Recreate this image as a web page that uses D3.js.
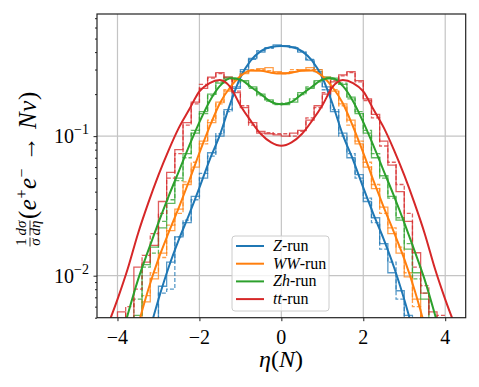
<!DOCTYPE html>
<html>
<head>
<meta charset="utf-8">
<script src="https://cdn.jsdelivr.net/npm/d3@7"></script>
<style>
  body { margin: 0; background: #fff; }
  svg { display: block; }
  text { font-family: "Liberation Serif", "DejaVu Serif", serif; fill: #000; }
</style>
</head>
<body>
<svg id="chart" width="479" height="387"></svg>
<script>
// sample points of the smooth curves
const etaGrid = [-4.5, -4.25, -4, -3.75, -3.5, -3.25, -3, -2.75, -2.5, -2.25, -2, -1.75, -1.5, -1.25, -1, -0.75, -0.5, -0.25,
  0, 0.25, 0.5, 0.75, 1, 1.25, 1.5, 1.75, 2, 2.25, 2.5, 2.75, 3, 3.25, 3.5, 3.75, 4, 4.25, 4.5]

const curveZ = [0.000126, 0.00025, 0.0005, 0.001, 0.002, 0.00372, 0.00676, 0.0115, 0.0182, 0.0275, 0.0427, 0.0676, 0.102, 0.170, 0.263, 0.347, 0.407, 0.435,
  0.442, 0.435, 0.407, 0.347, 0.263, 0.170, 0.102, 0.0676, 0.0427, 0.0275, 0.0182, 0.0115, 0.00676, 0.00372, 0.002, 0.001, 0.0005, 0.00025, 0.000126]
const curveWW = [0.00025, 0.00053, 0.00112, 0.00224, 0.00437, 0.00794, 0.0132, 0.0204, 0.0309, 0.0479, 0.0759, 0.117, 0.172, 0.224, 0.269, 0.295, 0.294, 0.285,
  0.281, 0.285, 0.294, 0.295, 0.269, 0.224, 0.172, 0.117, 0.0759, 0.0479, 0.0309, 0.0204, 0.0132, 0.00794, 0.00437, 0.00224, 0.00112, 0.00053, 0.00025]
const curveZh = [0.00071, 0.00141, 0.00282, 0.00525, 0.00933, 0.0151, 0.024, 0.0372, 0.0562, 0.0851, 0.126, 0.178, 0.229, 0.26, 0.254, 0.226, 0.2, 0.176,
  0.169, 0.176, 0.2, 0.226, 0.254, 0.26, 0.229, 0.178, 0.126, 0.0851, 0.0562, 0.0372, 0.024, 0.0151, 0.00933, 0.00525, 0.00282, 0.00141, 0.00071]
const curveTT = [0.00263, 0.00427, 0.00676, 0.0112, 0.02, 0.0331, 0.0525, 0.0794, 0.115, 0.155, 0.209, 0.24, 0.252, 0.225, 0.166, 0.129, 0.1035, 0.0902,
  0.0853, 0.0902, 0.1035, 0.129, 0.166, 0.225, 0.252, 0.24, 0.209, 0.155, 0.115, 0.0794, 0.0525, 0.0331, 0.02, 0.0112, 0.00676, 0.00427, 0.00263]

// histograms, 0.2 wide bins from -4.4 to 4.4
const histZ = [0, 0, 0.0004, 0.0009, 0.002, 0.003, 0.0045, 0.0084, 0.0125, 0.019, 0.024, 0.037, 0.05, 0.076, 0.1, 0.155, 0.22, 0.3, 0.36, 0.4, 0.43, 0.45,
  0.445, 0.43, 0.4, 0.35, 0.29, 0.225, 0.15, 0.105, 0.07, 0.053, 0.034, 0.026, 0.017, 0.0105, 0.0078, 0.0052, 0.003, 0.002, 0.0008, 0.0004, 0, 0]
const histZdash = [0, 0, 0.0003, 0.0008, 0.0018, 0.0032, 0.0045, 0.0075, 0.008, 0.019, 0.025, 0.035, 0.054, 0.072, 0.104, 0.15, 0.225, 0.29, 0.355, 0.41, 0.425, 0.44,
  0.44, 0.435, 0.405, 0.355, 0.3, 0.215, 0.155, 0.1, 0.075, 0.05, 0.036, 0.024, 0.0155, 0.0125, 0.0068, 0.0044, 0.0032, 0.0018, 0.0009, 0.0003, 0, 0]
const histWW = [0, 0.0005, 0.0012, 0.003, 0.0045, 0.0065, 0.0095, 0.0145, 0.021, 0.03, 0.045, 0.06, 0.092, 0.125, 0.175, 0.21, 0.255, 0.28, 0.295, 0.305, 0.31, 0.29,
  0.285, 0.29, 0.3, 0.31, 0.3, 0.265, 0.21, 0.17, 0.13, 0.088, 0.06, 0.042, 0.031, 0.02, 0.0145, 0.0098, 0.0068, 0.0042, 0.0025, 0.0013, 0.0005, 0]
const histWWdash = [0, 0.0004, 0.001, 0.0022, 0.004, 0.0072, 0.0105, 0.0135, 0.023, 0.028, 0.047, 0.065, 0.088, 0.13, 0.17, 0.215, 0.25, 0.285, 0.3, 0.3, 0.295, 0.285,
  0.28, 0.3, 0.295, 0.3, 0.29, 0.26, 0.215, 0.165, 0.12, 0.092, 0.065, 0.045, 0.028, 0.022, 0.016, 0.0105, 0.006, 0.0045, 0.0022, 0.001, 0.0004, 0]
const histZh = [0, 0.001, 0.0025, 0.0045, 0.0052, 0.012, 0.016, 0.022, 0.033, 0.05, 0.075, 0.105, 0.15, 0.2, 0.24, 0.265, 0.26, 0.25, 0.225, 0.2, 0.182, 0.17,
  0.168, 0.175, 0.205, 0.22, 0.25, 0.265, 0.26, 0.235, 0.19, 0.145, 0.105, 0.07, 0.052, 0.037, 0.025, 0.0155, 0.0105, 0.0068, 0.0045, 0.0025, 0.001, 0]
const histZhdash = [0, 0.0012, 0.003, 0.0035, 0.0068, 0.0115, 0.0145, 0.0245, 0.035, 0.048, 0.07, 0.11, 0.145, 0.195, 0.245, 0.26, 0.255, 0.245, 0.22, 0.195, 0.178, 0.168,
  0.172, 0.185, 0.198, 0.225, 0.245, 0.26, 0.255, 0.24, 0.185, 0.15, 0.11, 0.075, 0.05, 0.036, 0.026, 0.017, 0.0095, 0.0075, 0.004, 0.0032, 0.0012, 0]
const histTT = [0, 0.002, 0.0055, 0.003, 0.0115, 0.0125, 0.0165, 0.034, 0.055, 0.08, 0.125, 0.175, 0.22, 0.265, 0.285, 0.265, 0.205, 0.16, 0.125, 0.108, 0.104, 0.102,
  0.1, 0.105, 0.11, 0.13, 0.165, 0.2, 0.245, 0.275, 0.29, 0.25, 0.185, 0.143, 0.092, 0.062, 0.04, 0.0245, 0.0146, 0.0075, 0.0055, 0.003, 0.0015, 0]
const histTTdash = [0, 0.0015, 0.003, 0.006, 0.008, 0.014, 0.02, 0.028, 0.05, 0.075, 0.12, 0.17, 0.235, 0.26, 0.28, 0.255, 0.21, 0.165, 0.12, 0.105, 0.106, 0.104,
  0.104, 0.1, 0.108, 0.135, 0.16, 0.205, 0.25, 0.27, 0.285, 0.245, 0.18, 0.135, 0.085, 0.065, 0.045, 0.028, 0.0115, 0.0085, 0.004, 0.0052, 0.0012, 0]

const seriesNames = ['Z', 'WW', 'Zh', 'tt']
const seriesColors = ['#1f77b4', '#ff7f0e', '#2ca02c', '#d62728']
const xTicks = [-4, -2, 0, 2, 4]
const yTicks = [0.01, 0.1]
const yTickExp = ['−2', '−1']

const curves = [curveZ, curveWW, curveZh, curveTT]
const hists = [histZ, histWW, histZh, histTT]
const histsDash = [histZdash, histWWdash, histZhdash, histTTdash]

const width = 479
const height = 387
const margin = { left: 97, top: 14, right: 13.3, bottom: 69.3 }
const FLOOR = 1e-5

const svg = d3.select('#chart')

const x = d3.scaleLinear()
    .domain([-4.5, 4.5])
    .range([margin.left, width - margin.right])
const y = d3.scaleLog()
    .domain([0.005, 0.75])
    .range([height - margin.bottom, margin.top])

const edges = d3.range(hists[0].length + 1).map(i => -4.4 + 0.2 * i)

svg.append('clipPath').attr('id', 'clip')
    .append('rect')
    .attr('x', margin.left).attr('y', margin.top)
    .attr('width', x.range()[1] - x.range()[0])
    .attr('height', y.range()[0] - y.range()[1])

// grid
const grid = svg.append('g')
grid.selectAll('.gx').data(xTicks).join('line')
    .attr('x1', d => x(d)).attr('x2', d => x(d))
    .attr('y1', y.range()[0]).attr('y2', y.range()[1])
    .attr('stroke', '#c4c4c4').attr('stroke-width', 1.2)
grid.selectAll('.gy').data(yTicks).join('line')
    .attr('x1', x.range()[0]).attr('x2', x.range()[1])
    .attr('y1', d => y(d)).attr('y2', d => y(d))
    .attr('stroke', '#c4c4c4').attr('stroke-width', 1.2)

// step outline of a histogram
function stepPoints(vals) {
    const pts = [[edges[0], FLOOR]]
    vals.forEach((v, i) => {
        const vv = v > 0 ? v : FLOOR
        pts.push([edges[i], vv], [edges[i + 1], vv])
    })
    pts.push([edges[edges.length - 1], FLOOR])
    return pts
}

const stepLine = d3.line().x(d => x(d[0])).y(d => y(d[1]))
const smoothLine = d3.line()
    .x((d, i) => x(etaGrid[i]))
    .y(d => y(d))
    .curve(d3.curveMonotoneX)

const plot = svg.append('g').attr('clip-path', 'url(#clip)')

seriesNames.forEach((name, k) => {
    plot.append('path')
        .attr('d', stepLine(stepPoints(hists[k])))
        .attr('fill', 'none')
        .attr('stroke', seriesColors[k])
        .attr('stroke-width', 1.3)
        .attr('stroke-opacity', 0.75)
    plot.append('path')
        .attr('d', stepLine(stepPoints(histsDash[k])))
        .attr('fill', 'none')
        .attr('stroke', seriesColors[k])
        .attr('stroke-width', 1.3)
        .attr('stroke-opacity', 0.75)
        .attr('stroke-dasharray', '4,2')
})
seriesNames.forEach((name, k) => {
    plot.append('path')
        .attr('d', smoothLine(curves[k]))
        .attr('fill', 'none')
        .attr('stroke', seriesColors[k])
        .attr('stroke-width', 2)
})

// axes
const xAxis = d3.axisBottom(x).tickValues(xTicks).tickSize(3.5).tickSizeOuter(0).tickFormat('')
const minorY = []
;[0.001, 0.01, 0.1].forEach(dec => {
    for (let m = 2; m <= 9; m++) {
        const v = dec * m
        if (v >= 0.005 && v <= 0.75) minorY.push(v)
    }
})
const yAxisMinor = d3.axisLeft(y).tickValues(minorY).tickSize(2).tickSizeOuter(0).tickFormat('')
const yAxis = d3.axisLeft(y).tickValues(yTicks).tickSize(3.5).tickSizeOuter(0).tickFormat('')

svg.append('g').attr('transform', `translate(0, ${y.range()[0]})`).call(xAxis)
svg.append('g').attr('transform', `translate(${x.range()[0]}, 0)`).call(yAxisMinor)
svg.append('g').attr('transform', `translate(${x.range()[0]}, 0)`).call(yAxis)
svg.selectAll('.domain').remove()
svg.selectAll('.tick line').attr('stroke', '#222').attr('stroke-width', 1)

// frame
svg.append('rect')
    .attr('x', x.range()[0]).attr('y', y.range()[1])
    .attr('width', x.range()[1] - x.range()[0])
    .attr('height', y.range()[0] - y.range()[1])
    .attr('fill', 'none').attr('stroke', '#222').attr('stroke-width', 1.2)

// tick labels
svg.selectAll('.xl').data(xTicks).join('text')
    .attr('x', d => x(d)).attr('y', 344)
    .attr('text-anchor', 'middle')
    .style('font-size', '20px')
    .text(d => d < 0 ? '−' + Math.abs(d) : d)

yTicks.forEach((t, i) => {
    const tx = svg.append('text')
        .attr('x', 89).attr('y', y(t) + 7)
        .attr('text-anchor', 'end')
        .style('font-size', '20px')
    tx.append('tspan').text('10')
    tx.append('tspan').attr('dy', -9).style('font-size', '14px').text(yTickExp[i])
})

// x label
const xl = svg.append('text')
    .attr('x', 281).attr('y', 367)
    .attr('text-anchor', 'middle')
    .style('font-size', '24px')
xl.append('tspan').style('font-style', 'italic').text('η')
xl.append('tspan').text('(')
xl.append('tspan').style('font-style', 'italic').text('N')
xl.append('tspan').text(')')

// y label (rotated)
const yl = svg.append('g').attr('transform', 'translate(0, 247) rotate(-90)')
function frac(g, cx, num, den, w) {
    const n = g.append('text').attr('x', cx).attr('y', 26).attr('text-anchor', 'middle').style('font-size', '15px')
    num.forEach(p => n.append('tspan').style('font-style', p[1] ? 'italic' : 'normal').text(p[0]))
    g.append('line').attr('x1', cx - w / 2).attr('x2', cx + w / 2).attr('y1', 30).attr('y2', 30)
        .attr('stroke', '#000').attr('stroke-width', 0.8)
    const d = g.append('text').attr('x', cx).attr('y', 40).attr('text-anchor', 'middle').style('font-size', '15px')
    den.forEach(p => d.append('tspan').style('font-style', p[1] ? 'italic' : 'normal').text(p[0]))
}
frac(yl, 5, [['1', false]], [['σ', true]], 9)
frac(yl, 19, [['d', true], ['σ', true]], [['d', true], ['η', true]], 15)
const yt = yl.append('text').attr('x', 28).attr('y', 36)
    .style('font-size', '25px').style('letter-spacing', '0.5px')
yt.append('tspan').text('(')
yt.append('tspan').style('font-style', 'italic').text('e')
yt.append('tspan').attr('dy', -9).style('font-size', '16px').text('+')
yt.append('tspan').attr('dy', 9).style('font-style', 'italic').text('e')
yt.append('tspan').attr('dy', -9).style('font-size', '16px').text('−')
yt.append('tspan').attr('dy', 9).text(' → ')
yt.append('tspan').style('font-style', 'italic').text('Nν')
yt.append('tspan').text(')')

// legend
const legend = svg.append('g')
legend.append('rect')
    .attr('x', 232).attr('y', 236).attr('width', 97).attr('height', 75).attr('rx', 3)
    .attr('fill', '#fff').attr('fill-opacity', 0.8)
    .attr('stroke', '#cccccc').attr('stroke-width', 1)
seriesNames.forEach((name, k) => {
    const ly = 246 + k * 17.7
    legend.append('line')
        .attr('x1', 236).attr('x2', 264).attr('y1', ly).attr('y2', ly)
        .attr('stroke', seriesColors[k]).attr('stroke-width', 2)
    const t = legend.append('text').attr('x', 273).attr('y', ly + 5).style('font-size', '16px')
    t.append('tspan').style('font-style', 'italic').text(name)
    t.append('tspan').text('-run')
})
</script>
</body>
</html>
